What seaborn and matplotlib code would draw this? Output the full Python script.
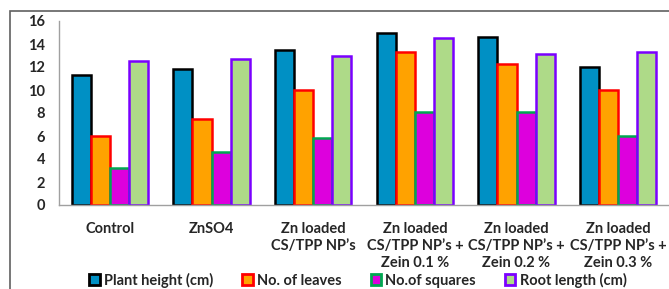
import matplotlib
matplotlib.use("Agg")
import matplotlib.pyplot as plt
import seaborn as sns
import pandas as pd
from matplotlib.patches import Patch, Rectangle

categories = ["Control", "ZnSO4", "Zn loaded\nCS/TPP NP\u2019s",
              "Zn loaded\nCS/TPP NP\u2019s +\nZein 0.1 %",
              "Zn loaded\nCS/TPP NP\u2019s +\nZein 0.2 %",
              "Zn loaded\nCS/TPP NP\u2019s +\nZein 0.3 %"]
series = ["Plant height (cm)", "No. of leaves", "No.of squares", "Root length (cm)"]
plant_height = [11.3, 11.8, 13.5, 15.0, 14.6, 12.0]
leaves = [6.0, 7.5, 10.0, 13.3, 12.3, 10.0]
squares = [3.2, 4.6, 5.8, 8.1, 8.1, 6.0]
root_length = [12.5, 12.7, 13.0, 14.5, 13.1, 13.3]

rows = []
for s, vals in zip(series, [plant_height, leaves, squares, root_length]):
    for c, v in zip(categories, vals):
        rows.append({"cat": c, "series": s, "value": v})
df = pd.DataFrame(rows)

faces = ["#0090C4", "#FFA200", "#DD00DD", "#AEDA88"]
edges = ["#000000", "#FF0000", "#00A850", "#7A00FF"]

sns.set_style("white")
plt.rcParams["font.family"] = ["Lato", "DejaVu Sans"]

fig = plt.figure(figsize=(6.69, 2.89), dpi=100)
ax = fig.add_axes([59/669, 1-205/289, 1-59/669, (205-21)/289])

sns.barplot(data=df, x="cat", y="value", hue="series", order=categories,
            hue_order=series, palette=faces, width=0.75, ax=ax, legend=False,
            saturation=1)
for cont, ec in zip(ax.containers, edges):
    for p in cont:
        p.set_edgecolor(ec)
        p.set_linewidth(1.8)

ax.set_ylim(0, 16)
ax.set_yticks(range(0, 17, 2))
ax.set_xlim(-0.5, 5.5)
ax.set_xlabel("")
ax.set_ylabel("")
ax.set_xticks(range(6))
ax.set_xticklabels(categories, fontsize=10.5, fontweight="bold", linespacing=1.3)
ax.tick_params(axis="x", length=0, pad=12)
ax.set_xticks([i + 0.5 for i in range(-1, 6)], minor=True)
ax.tick_params(axis="x", which="minor", length=5, color="#a0a0a0", direction="out")
ax.tick_params(axis="y", length=4, color="#a0a0a0", direction="out", labelsize=10.5, pad=6)
for lab in ax.get_yticklabels():
    lab.set_fontweight("bold")
for sp in ["top", "right"]:
    ax.spines[sp].set_visible(False)
for sp in ["left", "bottom"]:
    ax.spines[sp].set_color("#a0a0a0")
    ax.spines[sp].set_linewidth(1)

handles = [Patch(facecolor=f, edgecolor=e, linewidth=2) for f, e in zip(faces, edges)]
fig.legend(handles, series, loc="center", bbox_to_anchor=(358/669, 1-280/289),
           ncol=4, frameon=False, handlelength=0.7, handleheight=0.7,
           columnspacing=2.0, handletextpad=0.3, borderaxespad=0, borderpad=0,
           prop={"weight": "bold", "size": 10.5})

fig.patches.append(Rectangle((10/669, -0.05), 1.1, 1-11/289 + 0.05,
                             transform=fig.transFigure, fill=False,
                             edgecolor="#606060", linewidth=1.2))

fig.savefig("out.png", dpi=100)
